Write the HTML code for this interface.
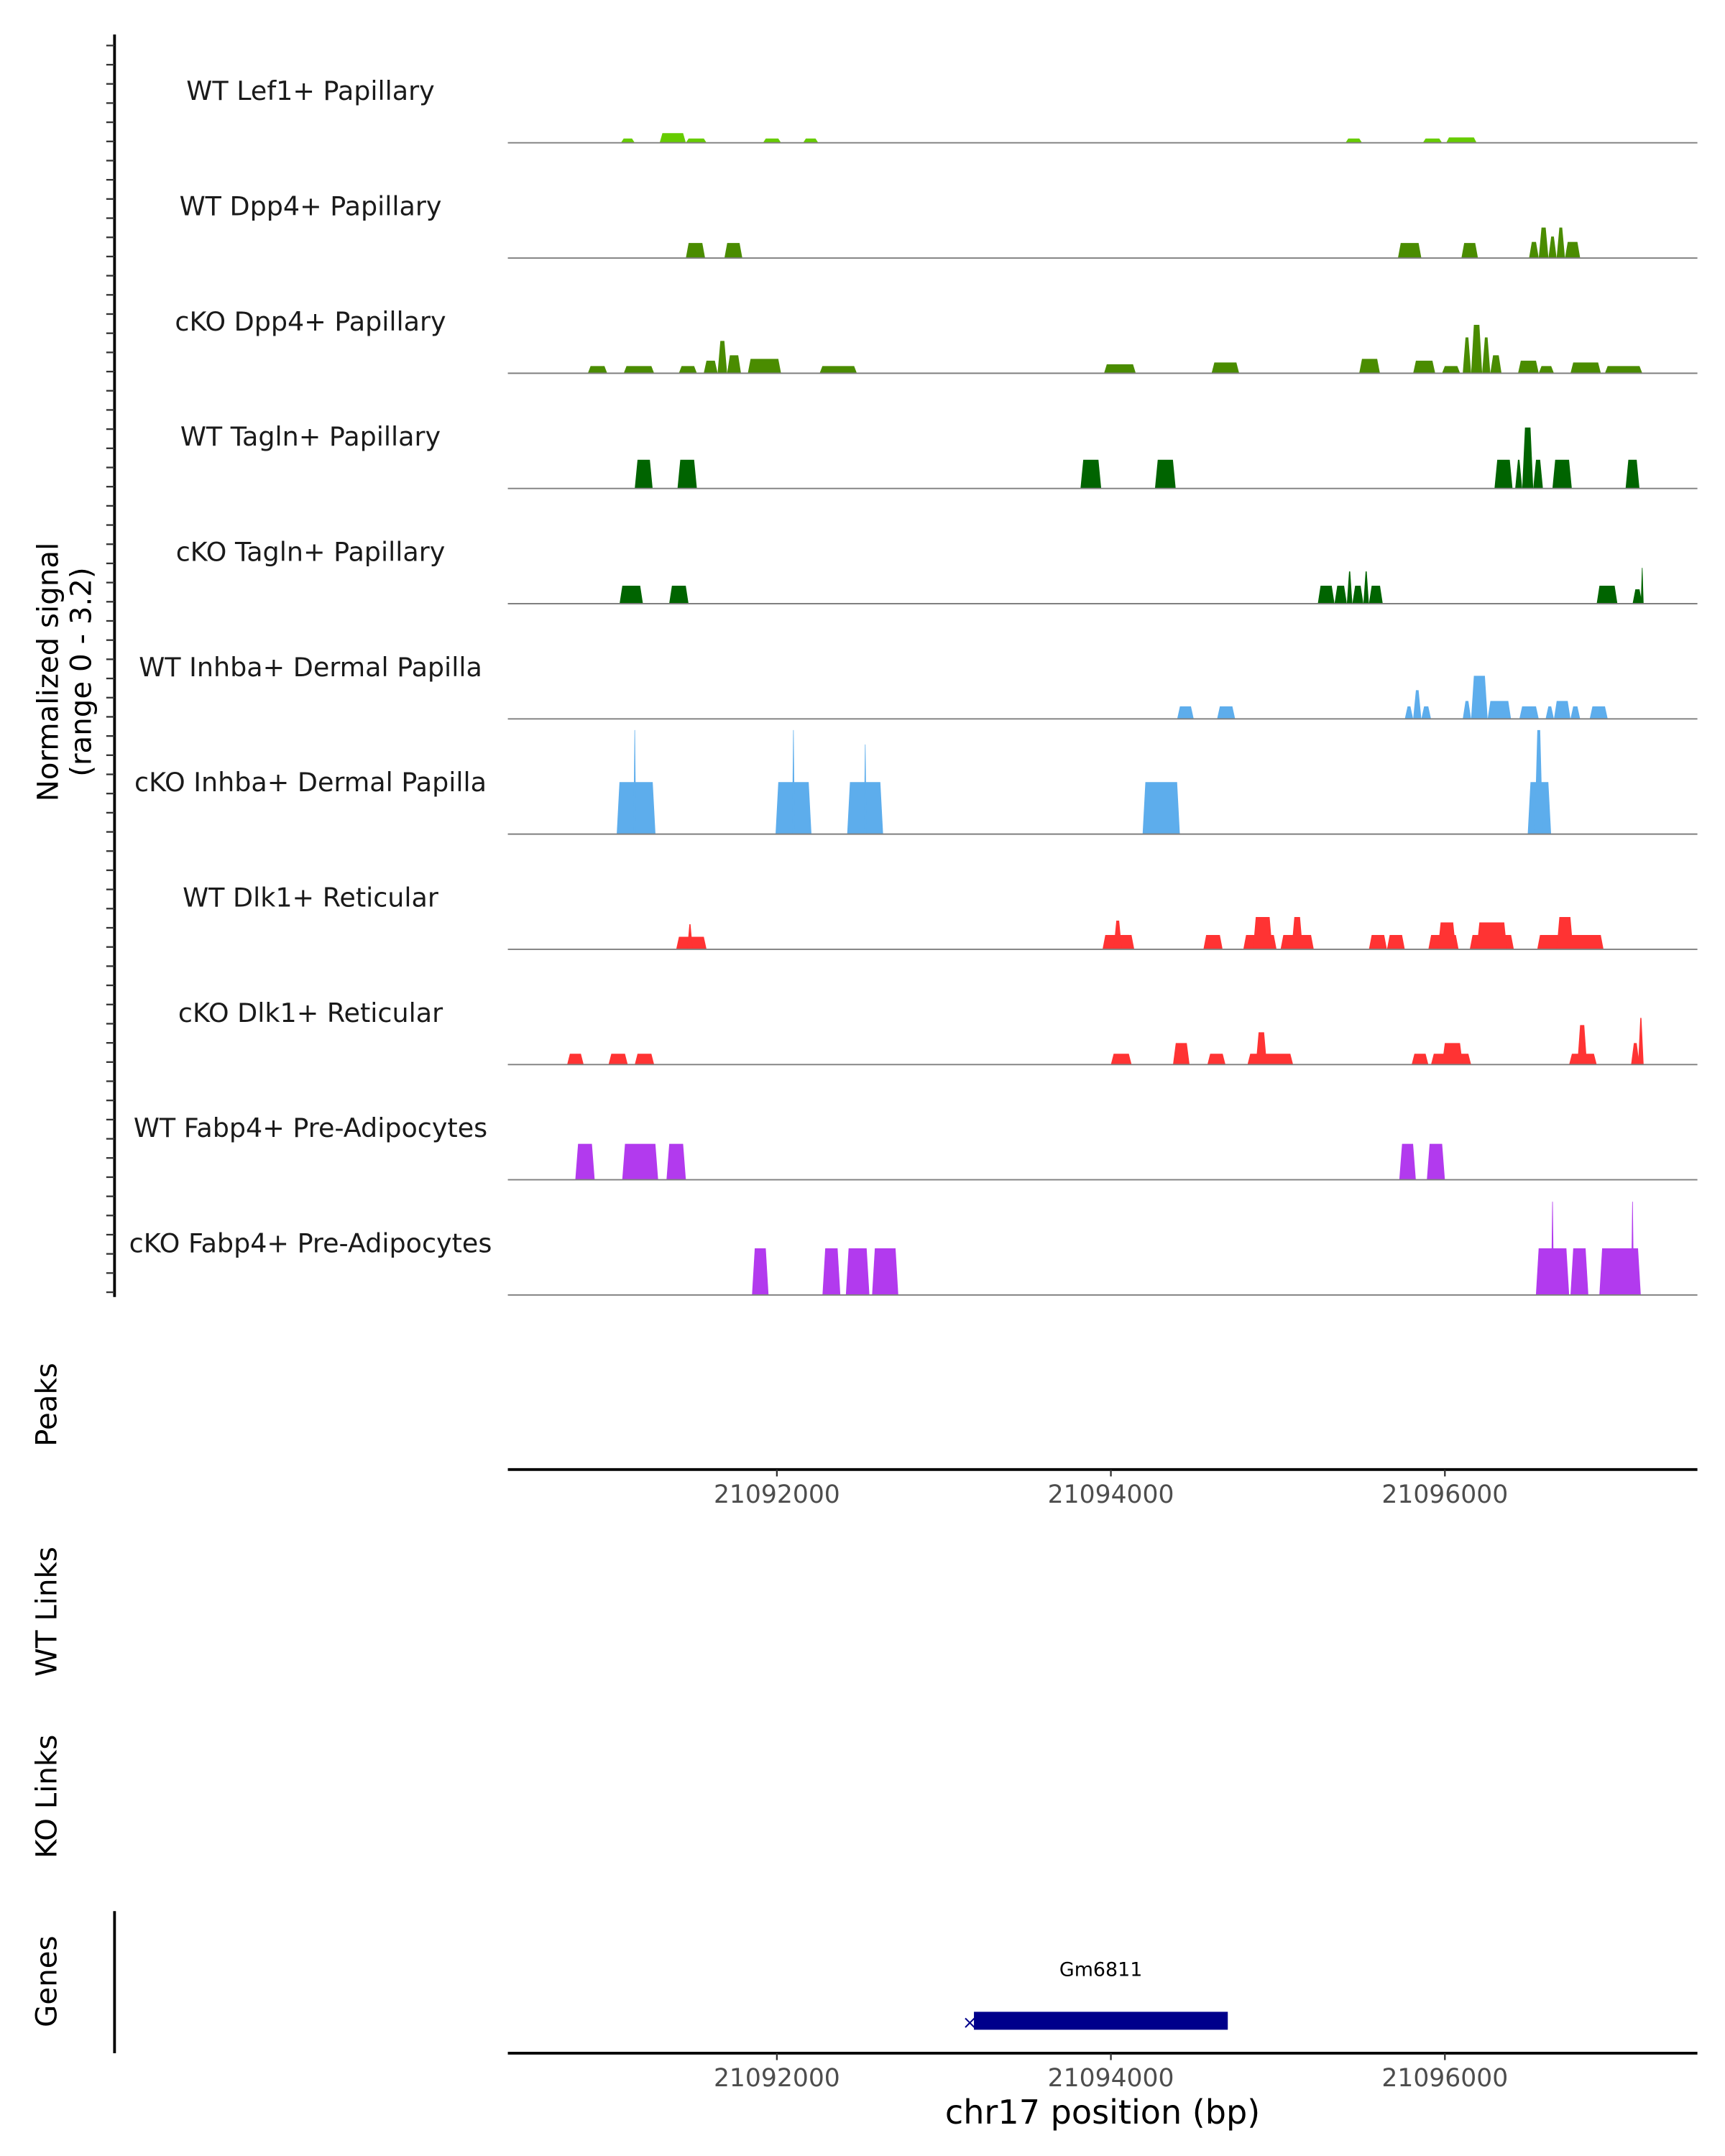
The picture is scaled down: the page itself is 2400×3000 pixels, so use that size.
<!DOCTYPE html>
<html><head><meta charset="utf-8"><style>
html,body{margin:0;padding:0;background:#fff}
svg{display:block}
text{font-family:"DejaVu Sans","Liberation Sans",sans-serif}
</style></head><body>
<svg id="chart" width="2400" height="3000" viewBox="0 0 1250 1562.5" xmlns="http://www.w3.org/2000/svg">
<g id="tracks"></g>
<g id="axes"></g>
<text transform="translate(42,487) rotate(-90)" text-anchor="middle" font-size="21" fill="#000">Normalized signal</text>
<text transform="translate(66,487) rotate(-90)" text-anchor="middle" font-size="21" fill="#000">(range 0 - 3.2)</text>
<text transform="translate(41,1018) rotate(-90)" text-anchor="middle" font-size="21">Peaks</text>
<text transform="translate(41,1168) rotate(-90)" text-anchor="middle" font-size="21">WT Links</text>
<text transform="translate(41,1302) rotate(-90)" text-anchor="middle" font-size="21">KO Links</text>
<text transform="translate(41,1436) rotate(-90)" text-anchor="middle" font-size="21">Genes</text>
<text x="799" y="1539" text-anchor="middle" font-size="24">chr17 position (bp)</text>
</svg>
<script>
const trackNames=["WT Lef1+ Papillary","WT Dpp4+ Papillary","cKO Dpp4+ Papillary","WT Tagln+ Papillary","cKO Tagln+ Papillary","WT Inhba+ Dermal Papilla","cKO Inhba+ Dermal Papilla","WT Dlk1+ Reticular","cKO Dlk1+ Reticular","WT Fabp4+ Pre-Adipocytes","cKO Fabp4+ Pre-Adipocytes"];
const trackColors=["#66cc00","#4a8c00","#4a8c00","#006400","#006400","#5dadec","#5dadec","#ff3333","#ff3333","#b23aee","#b23aee"];
const xTicks=[21092000,21094000,21096000];
const xTickLabels=["21092000","21094000","21096000"];
const gene={name:"Gm6811",start:21093180,end:21094700};
function B(x){return Math.round(21092000+(x-563)*8.264);}
const peaks0=[[450,460,.12],[478,497,.27],[497,512,.12],[553,566,.12],[582,593,.12],[975,987,.12],[1031,1045,.12],[1048,1070,.15]];
const peaks1=[[497,511,.42],[525,538,.42],[1013,1030,.42],[1059,1071,.42],[1108,1115,.45],[1115,1122,.85],[1122,1128,.6],[1128,1134,.85],[1134,1145,.45]];
const peaks2=[[426,440,.2],[452,474,.2],[492,505,.2],[510,520,.35],[520,527,.9],[527,537,.5],[542,566,.4],[594,621,.2],[800,823,.25],[878,898,.3],[985,1000,.4],[1024,1040,.35],[1045,1058,.2],[1060,1066,1.0],[1066,1074,1.35],[1074,1080,1.0],[1080,1088,.5],[1100,1115,.35],[1115,1126,.2],[1138,1160,.3],[1163,1190,.2]];
const peaks3=[[460,473,.8],[491,505,.8],[783,798,.8],[837,852,.8],[1083,1096,.8],[1098,1103,.8],[1103,1111,1.7],[1111,1118,.8],[1125,1139,.8],[1178,1188,.8]];
const peaks4=[[449,466,.5],[485,499,.5],[955,967,.5],[967,976,.5],[976,980,.9],[980,988,.5],[988,992,.9],[992,1002,.5],[1157,1172,.5],[1183,1190,.4],[1189,1191,1.0]];
const peaks5=[[853,865,.35],[882,895,.35],[1018,1024,.35],[1024,1030,.8],[1030,1037,.35],[1060,1066,.5],[1066,1078,1.2],[1078,1095,.5],[1101,1115,.35],[1120,1126,.35],[1126,1138,.5],[1138,1145,.35],[1152,1165,.35]];
const peaks6=[[447,475,1.45],[459,461,2.9],[562,588,1.45],[574,576,2.9],[614,640,1.45],[626,628,2.5],[828,855,1.45],[1107,1124,1.45],[1112,1118,2.9]];
const peaks7=[[490,512,.35],[498,502,.7],[799,822,.4],[807,813,.8],[872,886,.4],[901,925,.4],[908,922,.9],[928,952,.4],[936,944,.9],[992,1005,.4],[1005,1018,.4],[1035,1057,.4],[1042,1055,.75],[1065,1097,.4],[1070,1092,.75],[1114,1162,.4],[1128,1140,.9]];
const peaks8=[[411,423,.3],[441,455,.3],[460,474,.3],[805,820,.3],[850,862,.6],[875,888,.3],[904,937,.3],[910,918,.9],[1023,1035,.3],[1037,1066,.3],[1045,1060,.6],[1137,1157,.3],[1143,1150,1.1],[1182,1188,.6],[1187,1191,1.3]];
const peaks9=[[417,431,1.0],[451,477,1.0],[483,497,1.0],[1014,1026,1.0],[1034,1047,1.0]];
const peaks10=[[545,557,1.3],[596,609,1.3],[613,630,1.3],[632,651,1.3],[1113,1137,1.3],[1124,1126,2.6],[1138,1151,1.3],[1159,1189,1.3],[1182,1184,2.6]];
const allPeaks=[peaks0,peaks1,peaks2,peaks3,peaks4,peaks5,peaks6,peaks7,peaks8,peaks9,peaks10];

const NS="http://www.w3.org/2000/svg";
const X0=368,X1=1230,BP0=B(368),BP1=B(1230);
function xs(bp){return X0+(bp-BP0)/(BP1-BP0)*(X1-X0);}
const top0=20,trackH=83.5,unit=26;
function ys(v,i){return top0+trackH*(i+1)-v*unit;}
function mk(tag,attrs,parent){const e=document.createElementNS(NS,tag);for(const k in attrs)e.setAttribute(k,attrs[k]);parent.appendChild(e);return e;}
const tg=document.getElementById('tracks');
allPeaks.forEach((pk,i)=>{
  const base=top0+trackH*(i+1);
  const g=mk('g',{},tg);
  
  
  const lab=mk('text',{x:225,y:base-31,'text-anchor':'middle','font-size':19,fill:'#1a1a1a'},g);
  lab.textContent=trackNames[i];
  
  
  pk.forEach(p=>{
    const a=xs(B(p[0])),b=xs(B(p[1])),y=ys(p[2],i);
    const s=Math.min(2,(b-a)/2.5);
    const poly=mk('polygon',{points:`${a},${base} ${a+s},${y} ${b-s},${y} ${b},${base}`,fill:trackColors[i]},g);
    
    
  });
  const bl=mk('line',{x1:X0,x2:X1,y1:base,y2:base,stroke:'#7f7f7f','stroke-width':1},g);
  
  
});
const ax=document.getElementById('axes');
let l=mk('line',{x1:83,x2:83,y1:25,y2:940,stroke:'#000','stroke-width':2},ax);


for(let y=33;y<=940;y+=13.9){mk('line',{x1:77,x2:83,y1:y,y2:y,stroke:'#333','stroke-width':1.2},ax);}
l=mk('line',{x1:83,x2:83,y1:1385,y2:1488,stroke:'#000','stroke-width':2},ax);


[1065,1488].forEach((yy,k)=>{
  const a=mk('line',{x1:X0,x2:X1,y1:yy,y2:yy,stroke:'#000','stroke-width':2},ax);
  
  
  xTicks.forEach((t,j)=>{
    mk('line',{x1:xs(t),x2:xs(t),y1:yy,y2:yy+5,stroke:'#333','stroke-width':1.2},ax);
    const tx=mk('text',{x:xs(t),y:yy+24,'text-anchor':'middle','font-size':18,fill:'#4d4d4d'},ax);
    tx.textContent=xTickLabels[j];
    
    
  });
});
const gb=mk('rect',{x:xs(gene.start),y:1458,width:xs(gene.end)-xs(gene.start),height:13,fill:'#00008b'},ax);


const gx=mk('text',{x:xs(gene.start)-3,y:1470,'font-size':13,fill:'#00008b','text-anchor':'middle'},ax);gx.textContent='×';


const gl=mk('text',{x:(xs(gene.start)+xs(gene.end))/2,y:1432,'text-anchor':'middle','font-size':14},ax);
gl.textContent=gene.name;


</script>
</body></html>
